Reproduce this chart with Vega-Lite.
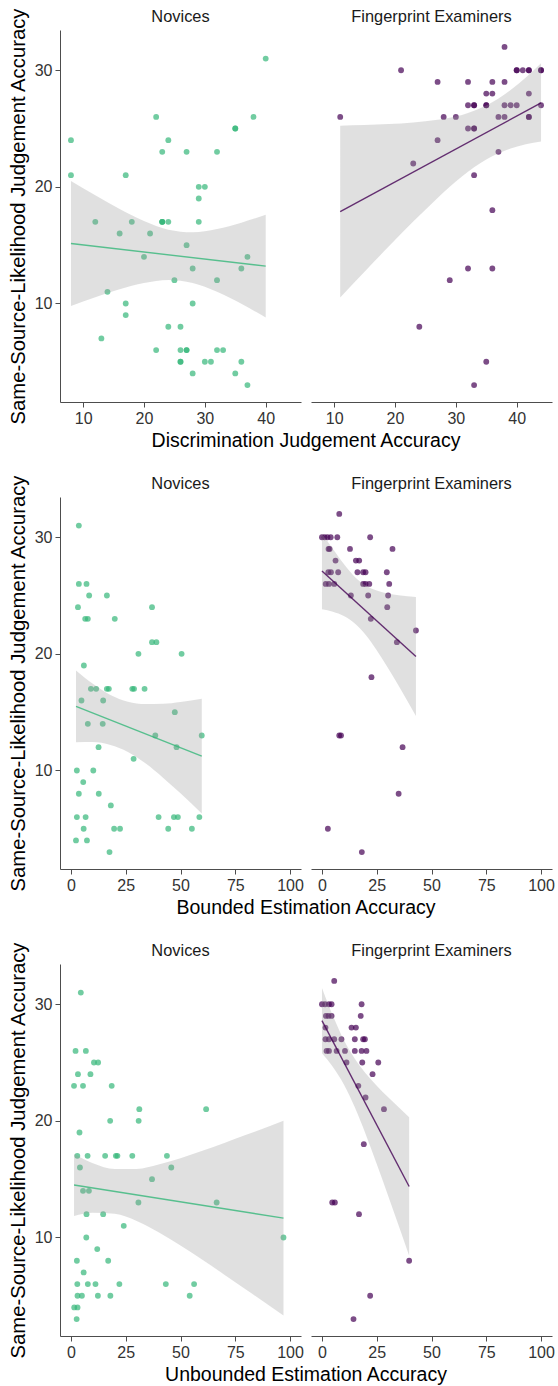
{
  "$schema": "https://vega.github.io/schema/vega-lite/v6.json",
  "background": "white",
  "padding": {"left": 8, "top": 7, "right": 0, "bottom": 0},
  "datasets": {
    "r1": [
      {"g":"N","x":8,"y":24},{"g":"N","x":8,"y":21},{"g":"N","x":40,"y":31},{"g":"N","x":22,"y":26},{"g":"N","x":35,"y":25},{"g":"N","x":35,"y":25},{"g":"N","x":38,"y":26},{"g":"N","x":24,"y":24},{"g":"N","x":23,"y":23},{"g":"N","x":27,"y":23},{"g":"N","x":32,"y":23},{"g":"N","x":17,"y":21},{"g":"N","x":29,"y":20},{"g":"N","x":30,"y":20},{"g":"N","x":29,"y":19},{"g":"N","x":29,"y":17},{"g":"N","x":12,"y":17},{"g":"N","x":18,"y":17},{"g":"N","x":23,"y":17},{"g":"N","x":23,"y":17},{"g":"N","x":23,"y":17},{"g":"N","x":24,"y":17},{"g":"N","x":16,"y":16},{"g":"N","x":21,"y":16},{"g":"N","x":27,"y":15},{"g":"N","x":20,"y":14},{"g":"N","x":37,"y":14},{"g":"N","x":28,"y":13},{"g":"N","x":36,"y":13},{"g":"N","x":25,"y":12},{"g":"N","x":32,"y":12},{"g":"N","x":14,"y":11},{"g":"N","x":17,"y":10},{"g":"N","x":28,"y":10},{"g":"N","x":17,"y":9},{"g":"N","x":24,"y":8},{"g":"N","x":26,"y":8},{"g":"N","x":13,"y":7},{"g":"N","x":22,"y":6},{"g":"N","x":26,"y":6},{"g":"N","x":27,"y":6},{"g":"N","x":27,"y":6},{"g":"N","x":32,"y":6},{"g":"N","x":33,"y":6},{"g":"N","x":26,"y":5},{"g":"N","x":26,"y":5},{"g":"N","x":30,"y":5},{"g":"N","x":31,"y":5},{"g":"N","x":36,"y":5},{"g":"N","x":28,"y":4},{"g":"N","x":35,"y":4},{"g":"N","x":37,"y":3},
      {"g":"E","x":38,"y":32},{"g":"E","x":21,"y":30},{"g":"E","x":40,"y":30},{"g":"E","x":40,"y":30},{"g":"E","x":41,"y":30},{"g":"E","x":42,"y":30},{"g":"E","x":42,"y":30},{"g":"E","x":44,"y":30},{"g":"E","x":44,"y":30},{"g":"E","x":27,"y":29},{"g":"E","x":32,"y":29},{"g":"E","x":36,"y":29},{"g":"E","x":38,"y":29},{"g":"E","x":35,"y":28},{"g":"E","x":36,"y":28},{"g":"E","x":42,"y":28},{"g":"E","x":32,"y":27},{"g":"E","x":33,"y":27},{"g":"E","x":33,"y":27},{"g":"E","x":35,"y":27},{"g":"E","x":35,"y":27},{"g":"E","x":38,"y":27},{"g":"E","x":39,"y":27},{"g":"E","x":40,"y":27},{"g":"E","x":44,"y":27},{"g":"E","x":11,"y":26},{"g":"E","x":28,"y":26},{"g":"E","x":30,"y":26},{"g":"E","x":37,"y":26},{"g":"E","x":38,"y":26},{"g":"E","x":42,"y":26},{"g":"E","x":42,"y":26},{"g":"E","x":32,"y":25},{"g":"E","x":33,"y":25},{"g":"E","x":33,"y":25},{"g":"E","x":27,"y":24},{"g":"E","x":37,"y":23},{"g":"E","x":23,"y":22},{"g":"E","x":33,"y":21},{"g":"E","x":36,"y":18},{"g":"E","x":32,"y":13},{"g":"E","x":36,"y":13},{"g":"E","x":29,"y":12},{"g":"E","x":24,"y":8},{"g":"E","x":35,"y":5},{"g":"E","x":33,"y":3},
      {"g":"N","x":8,"lo":9.78,"hi":20.5,"fit":15.14},{"g":"N","x":12,"lo":10.53,"hi":19.27},{"g":"N","x":16,"lo":11.22,"hi":18.1},{"g":"N","x":20,"lo":11.75,"hi":17.07},{"g":"N","x":24,"lo":12.01,"hi":16.33},{"g":"N","x":28,"lo":11.75,"hi":16.11},{"g":"N","x":32,"lo":11.0,"hi":16.38},{"g":"N","x":36,"lo":9.97,"hi":16.93},{"g":"N","x":40,"lo":8.8,"hi":17.6,"fit":13.2},
      {"g":"E","x":11,"lo":10.52,"hi":25.24,"fit":17.88},{"g":"E","x":15,"lo":12.72,"hi":25.3},{"g":"E","x":19,"lo":14.9,"hi":25.38},{"g":"E","x":23,"lo":17.02,"hi":25.52},{"g":"E","x":27,"lo":19.05,"hi":25.75},{"g":"E","x":31,"lo":20.89,"hi":26.17},{"g":"E","x":35,"lo":22.35,"hi":26.97},{"g":"E","x":39,"lo":23.28,"hi":28.3},{"g":"E","x":44,"lo":23.88,"hi":30.6,"fit":27.2}
    ],
    "r2": [
      {"g":"N","x":3.6,"y":31},{"g":"N","x":3.6,"y":26},{"g":"N","x":7.1,"y":26},{"g":"N","x":8.3,"y":25},{"g":"N","x":16.4,"y":25},{"g":"N","x":3.2,"y":24},{"g":"N","x":37,"y":24},{"g":"N","x":6.5,"y":23},{"g":"N","x":7.7,"y":23},{"g":"N","x":20,"y":23},{"g":"N","x":37,"y":21},{"g":"N","x":39,"y":21},{"g":"N","x":30.8,"y":20},{"g":"N","x":50.5,"y":20},{"g":"N","x":5.9,"y":19},{"g":"N","x":9.1,"y":17},{"g":"N","x":11.5,"y":17},{"g":"N","x":16.4,"y":17},{"g":"N","x":17.3,"y":17},{"g":"N","x":28,"y":17},{"g":"N","x":28.8,"y":17},{"g":"N","x":33.6,"y":17},{"g":"N","x":4.8,"y":16},{"g":"N","x":14.7,"y":16},{"g":"N","x":47.4,"y":15},{"g":"N","x":7.7,"y":14},{"g":"N","x":14.5,"y":14},{"g":"N","x":38.5,"y":13},{"g":"N","x":59.7,"y":13},{"g":"N","x":12.6,"y":12},{"g":"N","x":48.2,"y":12},{"g":"N","x":28.6,"y":11},{"g":"N","x":2.7,"y":10},{"g":"N","x":10.2,"y":10},{"g":"N","x":5.6,"y":9},{"g":"N","x":3.6,"y":8},{"g":"N","x":12.7,"y":8},{"g":"N","x":18.2,"y":7},{"g":"N","x":2.7,"y":6},{"g":"N","x":6.7,"y":6},{"g":"N","x":40,"y":6},{"g":"N","x":47,"y":6},{"g":"N","x":48.8,"y":6},{"g":"N","x":58.6,"y":6},{"g":"N","x":5.8,"y":5},{"g":"N","x":19.7,"y":5},{"g":"N","x":22.4,"y":5},{"g":"N","x":44.4,"y":5},{"g":"N","x":55.2,"y":5},{"g":"N","x":2.3,"y":4},{"g":"N","x":7.3,"y":4},{"g":"N","x":17.6,"y":3},
      {"g":"E","x":7.9,"y":32},{"g":"E","x":0,"y":30},{"g":"E","x":1.2,"y":30},{"g":"E","x":2.5,"y":30},{"g":"E","x":4,"y":30},{"g":"E","x":7,"y":30},{"g":"E","x":22,"y":30},{"g":"E","x":3,"y":29},{"g":"E","x":3.5,"y":29},{"g":"E","x":12.8,"y":29},{"g":"E","x":32.2,"y":29},{"g":"E","x":6.2,"y":28},{"g":"E","x":15.5,"y":28},{"g":"E","x":17,"y":28},{"g":"E","x":2.9,"y":27},{"g":"E","x":4.1,"y":27},{"g":"E","x":7.4,"y":27},{"g":"E","x":16.2,"y":27},{"g":"E","x":18.8,"y":27},{"g":"E","x":19.9,"y":27},{"g":"E","x":29.6,"y":27},{"g":"E","x":1.7,"y":26},{"g":"E","x":3.2,"y":26},{"g":"E","x":5.6,"y":26},{"g":"E","x":18.8,"y":26},{"g":"E","x":19.9,"y":26},{"g":"E","x":21.6,"y":26},{"g":"E","x":30.7,"y":26},{"g":"E","x":13.2,"y":25},{"g":"E","x":21.1,"y":25},{"g":"E","x":30.2,"y":25},{"g":"E","x":29.8,"y":24},{"g":"E","x":22.3,"y":23},{"g":"E","x":42.9,"y":22},{"g":"E","x":34.2,"y":21},{"g":"E","x":22.6,"y":18},{"g":"E","x":7.9,"y":13},{"g":"E","x":8.7,"y":13},{"g":"E","x":36.8,"y":12},{"g":"E","x":35,"y":8},{"g":"E","x":2.7,"y":5},{"g":"E","x":18.2,"y":3},
      {"g":"N","x":2.3,"lo":12.41,"hi":18.57,"fit":15.49},{"g":"N","x":10,"lo":12.43,"hi":17.43},{"g":"N","x":18,"lo":12.19,"hi":16.47},{"g":"N","x":26,"lo":11.59,"hi":15.89},{"g":"N","x":34,"lo":10.61,"hi":15.69},{"g":"N","x":42,"lo":9.38,"hi":15.72},{"g":"N","x":50,"lo":8.04,"hi":15.88},{"g":"N","x":59.7,"lo":6.3,"hi":16.16,"fit":11.23},
      {"g":"E","x":0,"lo":23.83,"hi":30.3,"fit":27.1},{"g":"E","x":5,"lo":23.61,"hi":29.0},{"g":"E","x":10,"lo":23.24,"hi":27.7},{"g":"E","x":15,"lo":22.6,"hi":26.6},{"g":"E","x":20,"lo":21.61,"hi":25.87},{"g":"E","x":25,"lo":20.31,"hi":25.43},{"g":"E","x":30,"lo":18.83,"hi":25.17},{"g":"E","x":35,"lo":17.26,"hi":25.02},{"g":"E","x":42.9,"lo":14.67,"hi":24.87,"fit":19.77}
    ],
    "r3": [
      {"g":"N","x":4.5,"y":31},{"g":"N","x":2.1,"y":26},{"g":"N","x":6.8,"y":26},{"g":"N","x":10.5,"y":25},{"g":"N","x":12.4,"y":25},{"g":"N","x":3.2,"y":24},{"g":"N","x":8.9,"y":24},{"g":"N","x":1.4,"y":23},{"g":"N","x":5.5,"y":23},{"g":"N","x":18.6,"y":23},{"g":"N","x":31.2,"y":21},{"g":"N","x":61.7,"y":21},{"g":"N","x":17.9,"y":20},{"g":"N","x":30.9,"y":20},{"g":"N","x":3.9,"y":19},{"g":"N","x":2.9,"y":17},{"g":"N","x":7.6,"y":17},{"g":"N","x":15.6,"y":17},{"g":"N","x":20.5,"y":17},{"g":"N","x":21.2,"y":17},{"g":"N","x":28,"y":17},{"g":"N","x":43.8,"y":17},{"g":"N","x":4.1,"y":16},{"g":"N","x":45.8,"y":16},{"g":"N","x":37,"y":15},{"g":"N","x":5.5,"y":14},{"g":"N","x":8.2,"y":14},{"g":"N","x":30.8,"y":13},{"g":"N","x":66.5,"y":13},{"g":"N","x":7.1,"y":12},{"g":"N","x":14.7,"y":12},{"g":"N","x":24.1,"y":11},{"g":"N","x":7,"y":10},{"g":"N","x":97,"y":10},{"g":"N","x":12,"y":9},{"g":"N","x":2.7,"y":8},{"g":"N","x":17,"y":8},{"g":"N","x":5.8,"y":7},{"g":"N","x":2.9,"y":6},{"g":"N","x":7.7,"y":6},{"g":"N","x":11.2,"y":6},{"g":"N","x":22.1,"y":6},{"g":"N","x":43.3,"y":6},{"g":"N","x":56.2,"y":6},{"g":"N","x":3,"y":5},{"g":"N","x":5,"y":5},{"g":"N","x":12.3,"y":5},{"g":"N","x":18,"y":5},{"g":"N","x":54.2,"y":5},{"g":"N","x":1.5,"y":4},{"g":"N","x":3,"y":4},{"g":"N","x":2.6,"y":3},
      {"g":"E","x":5.6,"y":32},{"g":"E","x":0,"y":30},{"g":"E","x":1.4,"y":30},{"g":"E","x":3.2,"y":30},{"g":"E","x":4.4,"y":30},{"g":"E","x":18.1,"y":30},{"g":"E","x":1.8,"y":29},{"g":"E","x":3,"y":29},{"g":"E","x":4.4,"y":29},{"g":"E","x":17.7,"y":29},{"g":"E","x":1.6,"y":28},{"g":"E","x":13.5,"y":28},{"g":"E","x":15.5,"y":28},{"g":"E","x":1.6,"y":27},{"g":"E","x":3.2,"y":27},{"g":"E","x":5.6,"y":27},{"g":"E","x":8.9,"y":27},{"g":"E","x":15,"y":27},{"g":"E","x":18.8,"y":27},{"g":"E","x":19.6,"y":27},{"g":"E","x":2.1,"y":26},{"g":"E","x":3.2,"y":26},{"g":"E","x":6.7,"y":26},{"g":"E","x":10.5,"y":26},{"g":"E","x":15,"y":26},{"g":"E","x":18.1,"y":26},{"g":"E","x":20.3,"y":26},{"g":"E","x":11.2,"y":25},{"g":"E","x":18.4,"y":25},{"g":"E","x":25.7,"y":25},{"g":"E","x":23.1,"y":24},{"g":"E","x":16.6,"y":23},{"g":"E","x":19.9,"y":22},{"g":"E","x":28.3,"y":21},{"g":"E","x":19.1,"y":18},{"g":"E","x":4.7,"y":13},{"g":"E","x":5.9,"y":13},{"g":"E","x":16.9,"y":12},{"g":"E","x":39.8,"y":8},{"g":"E","x":22,"y":5},{"g":"E","x":14.4,"y":3},
      {"g":"N","x":1.4,"lo":11.85,"hi":17.15,"fit":14.5},{"g":"N","x":10,"lo":12.11,"hi":16.37},{"g":"N","x":20,"lo":12.03,"hi":15.87},{"g":"N","x":30,"lo":11.42,"hi":15.88},{"g":"N","x":40,"lo":10.44,"hi":16.26},{"g":"N","x":50,"lo":9.3,"hi":16.8},{"g":"N","x":60,"lo":8.08,"hi":17.44},{"g":"N","x":70,"lo":6.81,"hi":18.11},{"g":"N","x":80,"lo":5.52,"hi":18.8},{"g":"N","x":97,"lo":3.31,"hi":20.01,"fit":11.66},
      {"g":"E","x":0,"lo":25.8,"hi":31.4,"fit":28.6},{"g":"E","x":5,"lo":24.61,"hi":29.01},{"g":"E","x":10,"lo":23.12,"hi":26.94},{"g":"E","x":15,"lo":21.16,"hi":25.32},{"g":"E","x":20,"lo":18.83,"hi":24.07},{"g":"E","x":25,"lo":16.3,"hi":23.02},{"g":"E","x":30,"lo":13.69,"hi":22.07},{"g":"E","x":35,"lo":11.02,"hi":21.16},{"g":"E","x":39.8,"lo":8.44,"hi":20.3,"fit":14.37}
    ]
  },
  "vconcat": [
    {
      "data": {"name": "r1"},
      "facet": {"column": {"field": "g", "type": "nominal", "sort": ["N", "E"], "title": "Discrimination Judgement Accuracy", "header": {"titleOrient": "bottom", "labelOrient": "top", "labelExpr": "datum.value == 'N' ? 'Novices' : 'Fingerprint Examiners'"}}},
      "spacing": {"column": 10},
      "spec": {
        "width": 241, "height": 372,
        "layer": [
          {"transform": [{"filter": "isValid(datum.y)"}], "mark": {"type": "circle", "size": 34, "opacity": 0.7},
           "encoding": {
             "x": {"field": "x", "type": "quantitative", "title": null, "scale": {"domain": [6.2, 45.8], "nice": false, "zero": false}, "axis": {"values": [10, 20, 30, 40]}},
             "y": {"field": "y", "type": "quantitative", "title": "Same-Source-Likelihood Judgement Accuracy", "scale": {"domain": [1.55, 33.45], "nice": false, "zero": false}, "axis": {"values": [10, 20, 30]}},
             "color": {"field": "g", "type": "nominal", "scale": {"domain": ["N", "E"], "range": ["#35b779", "#440154"]}, "legend": null}}},
          {"transform": [{"filter": "isValid(datum.lo)"}], "mark": {"type": "area", "interpolate": "monotone", "color": "#999999", "opacity": 0.3},
           "encoding": {
             "x": {"field": "x", "type": "quantitative", "title": null},
             "y": {"field": "lo", "type": "quantitative", "title": "Same-Source-Likelihood Judgement Accuracy"},
             "y2": {"field": "hi"}}},
          {"transform": [{"filter": "isValid(datum.fit)"}], "mark": {"type": "line", "strokeWidth": 1.4, "opacity": 0.8},
           "encoding": {
             "x": {"field": "x", "type": "quantitative", "title": null},
             "y": {"field": "fit", "type": "quantitative", "title": "Same-Source-Likelihood Judgement Accuracy"},
             "color": {"field": "g", "type": "nominal", "scale": {"domain": ["N", "E"], "range": ["#35b779", "#440154"]}, "legend": null}}}
        ]
      }
    },
    {
      "data": {"name": "r2"},
      "facet": {"column": {"field": "g", "type": "nominal", "sort": ["N", "E"], "title": "Bounded Estimation Accuracy", "header": {"titleOrient": "bottom", "labelOrient": "top", "labelExpr": "datum.value == 'N' ? 'Novices' : 'Fingerprint Examiners'"}}},
      "spacing": {"column": 10},
      "spec": {
        "width": 241, "height": 372,
        "layer": [
          {"transform": [{"filter": "isValid(datum.y)"}], "mark": {"type": "circle", "size": 34, "opacity": 0.7},
           "encoding": {
             "x": {"field": "x", "type": "quantitative", "title": null, "scale": {"domain": [-5, 105], "nice": false, "zero": false}, "axis": {"values": [0, 25, 50, 75, 100]}},
             "y": {"field": "y", "type": "quantitative", "title": "Same-Source-Likelihood Judgement Accuracy", "scale": {"domain": [1.55, 33.45], "nice": false, "zero": false}, "axis": {"values": [10, 20, 30]}},
             "color": {"field": "g", "type": "nominal", "scale": {"domain": ["N", "E"], "range": ["#35b779", "#440154"]}, "legend": null}}},
          {"transform": [{"filter": "isValid(datum.lo)"}], "mark": {"type": "area", "interpolate": "monotone", "color": "#999999", "opacity": 0.3},
           "encoding": {
             "x": {"field": "x", "type": "quantitative", "title": null},
             "y": {"field": "lo", "type": "quantitative", "title": "Same-Source-Likelihood Judgement Accuracy"},
             "y2": {"field": "hi"}}},
          {"transform": [{"filter": "isValid(datum.fit)"}], "mark": {"type": "line", "strokeWidth": 1.4, "opacity": 0.8},
           "encoding": {
             "x": {"field": "x", "type": "quantitative", "title": null},
             "y": {"field": "fit", "type": "quantitative", "title": "Same-Source-Likelihood Judgement Accuracy"},
             "color": {"field": "g", "type": "nominal", "scale": {"domain": ["N", "E"], "range": ["#35b779", "#440154"]}, "legend": null}}}
        ]
      }
    },
    {
      "data": {"name": "r3"},
      "facet": {"column": {"field": "g", "type": "nominal", "sort": ["N", "E"], "title": "Unbounded Estimation Accuracy", "header": {"titleOrient": "bottom", "labelOrient": "top", "labelExpr": "datum.value == 'N' ? 'Novices' : 'Fingerprint Examiners'"}}},
      "spacing": {"column": 10},
      "spec": {
        "width": 241, "height": 372,
        "layer": [
          {"transform": [{"filter": "isValid(datum.y)"}], "mark": {"type": "circle", "size": 34, "opacity": 0.7},
           "encoding": {
             "x": {"field": "x", "type": "quantitative", "title": null, "scale": {"domain": [-5, 105], "nice": false, "zero": false}, "axis": {"values": [0, 25, 50, 75, 100]}},
             "y": {"field": "y", "type": "quantitative", "title": "Same-Source-Likelihood Judgement Accuracy", "scale": {"domain": [1.55, 33.45], "nice": false, "zero": false}, "axis": {"values": [10, 20, 30]}},
             "color": {"field": "g", "type": "nominal", "scale": {"domain": ["N", "E"], "range": ["#35b779", "#440154"]}, "legend": null}}},
          {"transform": [{"filter": "isValid(datum.lo)"}], "mark": {"type": "area", "interpolate": "monotone", "color": "#999999", "opacity": 0.3},
           "encoding": {
             "x": {"field": "x", "type": "quantitative", "title": null},
             "y": {"field": "lo", "type": "quantitative", "title": "Same-Source-Likelihood Judgement Accuracy"},
             "y2": {"field": "hi"}}},
          {"transform": [{"filter": "isValid(datum.fit)"}], "mark": {"type": "line", "strokeWidth": 1.4, "opacity": 0.8},
           "encoding": {
             "x": {"field": "x", "type": "quantitative", "title": null},
             "y": {"field": "fit", "type": "quantitative", "title": "Same-Source-Likelihood Judgement Accuracy"},
             "color": {"field": "g", "type": "nominal", "scale": {"domain": ["N", "E"], "range": ["#35b779", "#440154"]}, "legend": null}}}
        ]
      }
    }
  ],
  "spacing": 23,
  "config": {
    "font": "Liberation Sans",
    "view": {"stroke": null},
    "axis": {"grid": false, "domainColor": "#4d4d4d", "tickColor": "#4d4d4d", "tickSize": 5, "labelFontSize": 16, "labelColor": "#333333", "titleFontWeight": "normal", "titleColor": "#000000", "labelPadding": 3},
    "axisY": {"titleFontSize": 20.3, "titlePadding": 6},
    "header": {"labelFontSize": 16.4, "labelColor": "#1a1a1a", "labelPadding": 5, "titleFontSize": 19.5, "titleFontWeight": "normal", "titleColor": "#000000", "titlePadding": -4}
  }
}
